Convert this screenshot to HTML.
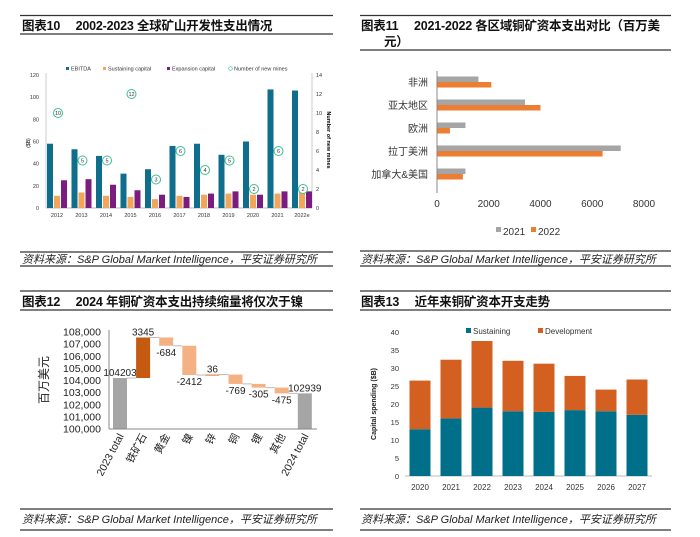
<!DOCTYPE html>
<html><head><meta charset="utf-8">
<style>
html,body{margin:0;padding:0;background:#fff;}
svg{display:block;font-family:"Liberation Sans","Noto Sans CJK SC",sans-serif;}
</style></head>
<body>
<svg id="s" width="700" height="537" viewBox="0 0 700 537" xmlns="http://www.w3.org/2000/svg">
<g stroke="#333" stroke-width="1.2">
<line x1="20" y1="15.5" x2="333" y2="15.5"/><line x1="20" y1="34" x2="333" y2="34"/>
<line x1="20" y1="252" x2="333" y2="252"/><line x1="20" y1="266" x2="333" y2="266"/>
<line x1="20" y1="291" x2="333" y2="291"/><line x1="20" y1="310" x2="333" y2="310"/>
<line x1="20" y1="509" x2="333" y2="509"/><line x1="20" y1="530" x2="333" y2="530"/>
<line x1="360" y1="15.5" x2="671" y2="15.5"/><line x1="360" y1="50" x2="671" y2="50"/>
<line x1="360" y1="251" x2="671" y2="251"/><line x1="360" y1="266" x2="671" y2="266"/>
<line x1="360" y1="291" x2="671" y2="291"/><line x1="360" y1="310" x2="671" y2="310"/>
<line x1="360" y1="509" x2="671" y2="509"/><line x1="360" y1="530" x2="671" y2="530"/>
</g>
<g font-weight="bold" font-size="12.5" fill="#111" letter-spacing="-0.2">
<text x="22" y="30">图表10　 2002-2023 全球矿山开发性支出情况</text>
<text x="361" y="30">图表11　 2021-2022 各区域铜矿资本支出对比（百万美</text>
<text x="384" y="46">元）</text>
<text x="22" y="306">图表12　 2024 年铜矿资本支出持续缩量将仅次于镍</text>
<text x="361" y="306">图表13　 近年来铜矿资本开支走势</text>
</g>
<g font-style="italic" font-size="11" fill="#222">
<text x="22" y="263">资料来源：S&amp;P Global Market Intelligence，平安证券研究所</text>
<text x="361" y="263">资料来源：S&amp;P Global Market Intelligence，平安证券研究所</text>
<text x="22" y="523">资料来源：S&amp;P Global Market Intelligence，平安证券研究所</text>
<text x="361" y="523">资料来源：S&amp;P Global Market Intelligence，平安证券研究所</text>
</g>
<g id="c10"></g>
<g id="c11"></g>
<g id="c12"></g>
<g id="c13"></g>
</svg>
<script>
// Chart 10 data
const c10Years = ['2012','2013','2014','2015','2016','2017','2018','2019','2020','2021','2022e'];
const c10Ebitda = [58,53,47,31,35,56,58,48,60,107,106];
const c10Sustain = [11,14,11,10,8,11,12,13,12,13,14];
const c10Expansion = [25,26,21,16,12,10,13,15,12,15,15];
const c10Mines = [10,5,5,12,3,6,4,5,2,6,2];
const c10LeftTicks = [0,20,40,60,80,100,120];
const c10RightTicks = [0,2,4,6,8,10,12,14];
// Chart 11 data
const c11Regions = ['非洲','亚太地区','欧洲','拉丁美洲','加拿大&美国'];
const c11Y2021 = [1600,3400,1100,7100,1100];
const c11Y2022 = [2100,4000,500,6400,1000];
const c11Ticks = [0,2000,4000,6000,8000];
// Chart 12 data
const c12Cats = ['2023 total','铁矿石','黄金','镍','锌','铜','锂','其他','2024 total'];
const c12Start = 104203;
const c12Deltas = [3345,-684,-2412,36,-769,-305,-475];
const c12End = 102939;
const c12Ticks = [100000,101000,102000,103000,104000,105000,106000,107000,108000];
// Chart 13 data
const c13Years = ['2020','2021','2022','2023','2024','2025','2026','2027'];
const c13Sustaining = [13,16,19,18,17.8,18.3,18,17];
const c13Development = [13.5,16.3,18.5,14,13.4,9.5,6,9.8];
const c13Ticks = [0,5,10,15,20,25,30,35,40];

const NS='http://www.w3.org/2000/svg';
function mk(parent,tag,attrs,txt){const e=document.createElementNS(NS,tag);for(const k in attrs)e.setAttribute(k,attrs[k]);if(txt!==undefined)e.textContent=txt;parent.appendChild(e);return e;}

// ---- Chart 10 ----
(function(){
const g=document.getElementById('c10');
const y=v=>208-v*(133/120), yr=v=>208-v*(133/14), cx=i=>57+i*24.5;
mk(g,'line',{x1:46,y1:73,x2:46,y2:208,stroke:'#ccc'});
mk(g,'line',{x1:312,y1:73,x2:312,y2:208,stroke:'#ccc'});
mk(g,'line',{x1:46,y1:208,x2:312,y2:208,stroke:'#bbb'});
c10LeftTicks.forEach(t=>{const e=mk(g,'text',{x:39,y:y(t)+2,'font-size':5.5,'text-anchor':'end',fill:'#333'},t);

});
c10RightTicks.forEach(t=>{const e=mk(g,'text',{x:316,y:yr(t)+2,'font-size':5.5,fill:'#333'},t);

});
mk(g,'text',{x:0,y:0,'font-size':5,transform:'translate(30,143) rotate(-90)','text-anchor':'middle'},'($B)');
mk(g,'text',{x:0,y:0,'font-size':5.5,'font-weight':'bold',transform:'translate(327,140) rotate(90)','text-anchor':'middle'},'Number of new mines');
c10Years.forEach((yy,i)=>{const x=cx(i);
let e=mk(g,'rect',{x:x-10,y:y(c10Ebitda[i]),width:6,height:208-y(c10Ebitda[i]),fill:'#0e6e8c'});


e=mk(g,'rect',{x:x-3,y:y(c10Sustain[i]),width:6,height:208-y(c10Sustain[i]),fill:'#f2a65a'});


e=mk(g,'rect',{x:x+4,y:y(c10Expansion[i]),width:6,height:208-y(c10Expansion[i]),fill:'#7b1c7f'});


e=mk(g,'circle',{cx:x+1,cy:yr(c10Mines[i]),r:4.5,fill:'#fff',stroke:'#3cbf8f','stroke-width':1});


mk(g,'text',{x:x+1,y:yr(c10Mines[i])+2,'font-size':5.5,'text-anchor':'middle',fill:'#333'},c10Mines[i]);
e=mk(g,'text',{x:x,y:217,'font-size':5.5,'text-anchor':'middle',fill:'#333'},yy);

});
const leg=[['rect','#0e6e8c','EBITDA',66],['rect','#f2a65a','Sustaining capital',103],['rect','#7b1c7f','Expansion capital',167],['circ','#3cbf8f','Number of new mines',229]];
leg.forEach(l=>{if(l[0]==='rect')mk(g,'rect',{x:l[3],y:67,width:3,height:3,fill:l[1]});else mk(g,'circle',{cx:l[3]+1.5,cy:68.5,r:1.8,fill:'none',stroke:l[1],'stroke-width':0.7});
const e=mk(g,'text',{x:l[3]+5,y:70.5,'font-size':5.5,fill:'#333'},l[2]);

});
})();

// ---- Chart 11 ----
(function(){
const g=document.getElementById('c11');
const x=v=>437+v*(207/8000), cy=i=>82+i*23;
c11Regions.forEach((r,i)=>{
let e=mk(g,'rect',{x:437,y:cy(i)-5.5,width:x(c11Y2021[i])-437,height:5.5,fill:'#a5a5a5'});


e=mk(g,'rect',{x:437,y:cy(i),width:x(c11Y2022[i])-437,height:5.5,fill:'#ed7d31'});


e=mk(g,'text',{x:428,y:cy(i)+4,'font-size':10,'text-anchor':'end',fill:'#333'},r);

});
mk(g,'line',{x1:437,y1:71,x2:437,y2:193,stroke:'#888'});
c11Ticks.forEach(t=>{const e=mk(g,'text',{x:x(t),y:207,'font-size':10,'text-anchor':'middle',fill:'#333'},t);

});
mk(g,'rect',{x:496,y:227,width:5,height:5,fill:'#a5a5a5'});
mk(g,'text',{x:503,y:235,'font-size':10,fill:'#333'},'2021');
mk(g,'rect',{x:531,y:227,width:5,height:5,fill:'#ed7d31'});
mk(g,'text',{x:538,y:235,'font-size':10,fill:'#333'},'2022');
})();

// ---- Chart 12 ----
(function(){
const g=document.getElementById('c12');
const y=v=>429-(v-100000)*(97/8000), cx=i=>120+i*23.1, w=14;
c12Ticks.forEach(t=>{const e=mk(g,'text',{x:101,y:y(t)+3.5,'font-size':10.5,'text-anchor':'end',fill:'#222'},t.toLocaleString('en-US'));

});
mk(g,'text',{x:0,y:0,'font-size':12,transform:'translate(48,380) rotate(-90)','text-anchor':'middle',fill:'#222'},'百万美元');
let e=mk(g,'rect',{x:cx(0)-w/2,y:y(c12Start),width:w,height:429-y(c12Start),fill:'#a5a5a5'});


mk(g,'text',{x:cx(0),y:y(c12Start)-2,'font-size':10,'text-anchor':'middle',fill:'#222'},c12Start);
let cur=c12Start;
c12Deltas.forEach((d,i)=>{const nxt=cur+d, top=Math.max(cur,nxt), bot=Math.min(cur,nxt), x=cx(i+1);
mk(g,'line',{x1:cx(i)+w/2,y1:y(cur),x2:x-w/2,y2:y(cur),stroke:'#bbb','stroke-width':1});
const fill=(i===0)?'#c55a11':(d>0?'#e2672a':'#f4b183');
const r=mk(g,'rect',{x:x-w/2,y:y(top),width:w,height:Math.max(1,y(bot)-y(top)),fill:fill});


const t=mk(g,'text',{x:x,y:d>0?y(top)-2:y(bot)+10,'font-size':10,'text-anchor':'middle',fill:'#222'},d);


cur=nxt;});
const li=c12Cats.length-1;
mk(g,'line',{x1:cx(li-1)+w/2,y1:y(cur),x2:cx(li)-w/2,y2:y(cur),stroke:'#bbb'});
e=mk(g,'rect',{x:cx(li)-w/2,y:y(c12End),width:w,height:429-y(c12End),fill:'#a5a5a5'});


mk(g,'text',{x:cx(li),y:y(c12End)-2,'font-size':10,'text-anchor':'middle',fill:'#222'},c12End);
mk(g,'line',{x1:109,y1:330,x2:109,y2:429,stroke:'#888'});
mk(g,'line',{x1:109,y1:429,x2:317,y2:429,stroke:'#888'});
c12Cats.forEach((c,i)=>{const t=mk(g,'text',{x:0,y:0,'font-size':10.5,'text-anchor':'end',fill:'#222',transform:`translate(${cx(i)+4},436) rotate(-62)`},c);

});
})();

// ---- Chart 13 ----
(function(){
const g=document.getElementById('c13');
const y=v=>476-v*(144/40), cx=i=>420+i*31, w=21;
c13Ticks.forEach(t=>{const e=mk(g,'text',{x:399,y:y(t)+3,'font-size':7.5,'text-anchor':'end',fill:'#333'},t);

});
mk(g,'text',{x:0,y:0,'font-size':7,'font-weight':'bold',transform:'translate(376,404) rotate(-90)','text-anchor':'middle',fill:'#222'},'Capital spending ($B)');
mk(g,'line',{x1:405,y1:476,x2:652,y2:476,stroke:'#bbb'});
c13Years.forEach((yy,i)=>{const s=c13Sustaining[i], d=c13Development[i];
let e=mk(g,'rect',{x:cx(i)-w/2,y:y(s),width:w,height:476-y(s),fill:'#006f8a'});


e=mk(g,'rect',{x:cx(i)-w/2,y:y(s+d),width:w,height:y(s)-y(s+d),fill:'#d35f21'});


e=mk(g,'text',{x:cx(i),y:490,'font-size':8,'text-anchor':'middle',fill:'#333'},yy);

});
mk(g,'rect',{x:466,y:328,width:5,height:5,fill:'#006f8a'});
mk(g,'text',{x:473,y:334,'font-size':8,fill:'#333'},'Sustaining');
mk(g,'rect',{x:538,y:328,width:5,height:5,fill:'#d35f21'});
mk(g,'text',{x:545,y:334,'font-size':8,fill:'#333'},'Development');
})();
</script>
</body></html>
